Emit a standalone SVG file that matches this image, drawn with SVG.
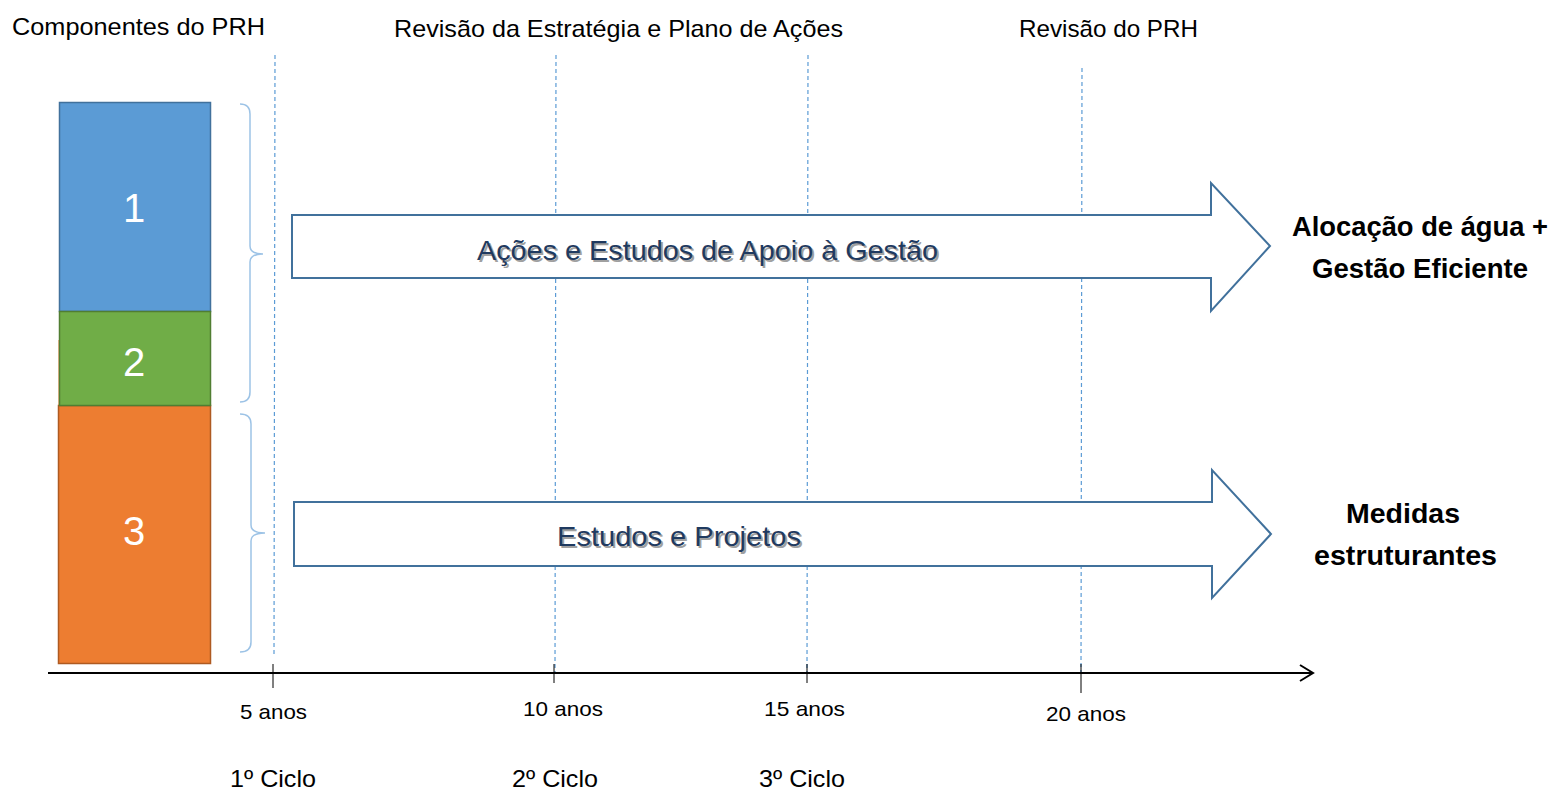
<svg xmlns="http://www.w3.org/2000/svg" width="1551" height="791" viewBox="0 0 1551 791">
<style>
.t{font-family:"Liberation Sans",Arial,sans-serif;fill:#000}
.h{font-size:24px}
.b{font-size:27px;font-weight:bold}
.num{font-family:"Liberation Sans",Arial,sans-serif;font-size:40px;fill:#fff;text-anchor:middle}
.lbl{font-family:"Liberation Sans",Arial,sans-serif;font-size:28px;fill:#1f3a60}
.sh{font-family:"Liberation Sans",Arial,sans-serif;font-size:28px;fill:#a0a0a0}
.yr{font-size:21px}
.cy{font-size:24px}
.dash{stroke:#5b9bd5;stroke-width:1.2;stroke-dasharray:4 3;fill:none}
.brace{stroke:#9dc3e6;stroke-width:1.5;fill:none}
.big{fill:#fff;stroke:#41719c;stroke-width:2}
.tick{stroke:#000;stroke-width:1}
</style>
<rect width="1551" height="791" fill="#fff"/>
<g id="headings">
<text class="t h" x="12" y="35" textLength="253" lengthAdjust="spacingAndGlyphs">Componentes do PRH</text>
<text class="t h" x="394" y="37" textLength="449" lengthAdjust="spacingAndGlyphs">Revisão da Estratégia e Plano de Ações</text>
<text class="t h" x="1019" y="37" textLength="179" lengthAdjust="spacingAndGlyphs">Revisão do PRH</text>
</g>
<g id="gridlines">
<line class="dash" x1="275" y1="55" x2="274" y2="656"/>
<line class="dash" x1="556" y1="55" x2="555" y2="672"/>
<line class="dash" x1="808" y1="55" x2="807" y2="672"/>
<line class="dash" x1="1082" y1="68" x2="1081" y2="672"/>
</g>
<g id="comp3">
<rect x="58.5" y="340" width="3" height="70" fill="#ed7d31"/>
<rect x="58.5" y="405.5" width="152" height="258" fill="#ed7d31" stroke="#ae5a21" stroke-width="1.5"/>
<text class="num" x="134" y="545">3</text>
</g>
<g id="comp1">
<rect x="59.5" y="102.5" width="151" height="209" fill="#5b9bd5" stroke="#41719c" stroke-width="1.5"/>
<text class="num" x="134" y="222">1</text>
</g>
<g id="comp2">
<rect x="59.5" y="311.5" width="151" height="94" fill="#70ad47" stroke="#507e32" stroke-width="1.5"/>
<text class="num" x="134" y="376">2</text>
</g>
<g id="braces">
<path class="brace" d="M240,104 Q250,104 250,114 L250,246 Q250,254 263,254 Q250,254 250,262 L250,392 Q250,402 240,402"/>
<path class="brace" d="M240,414 Q251,414 251,424 L251,525 Q251,533 265,533 Q251,533 251,541 L251,642 Q251,652 240,652"/>
</g>
<g id="connectors">
<line x1="48" y1="673" x2="1312" y2="673" stroke="#000" stroke-width="2"/>
<path d="M1300,665 L1313,673 L1300,681" fill="none" stroke="#000" stroke-width="2"/>
<line class="tick" x1="273" y1="664" x2="273" y2="688"/>
<line class="tick" x1="554" y1="664" x2="554" y2="683"/>
<line class="tick" x1="807" y1="664" x2="807" y2="683"/>
<line class="tick" x1="1081" y1="664" x2="1081" y2="693"/>
</g>
<g id="arrow1">
<path class="big" d="M292,215 L1211,215 L1211,183 L1270,246 L1211,311 L1211,278 L292,278 Z"/>
<text class="sh" x="479" y="262" textLength="461" lengthAdjust="spacingAndGlyphs">Ações e Estudos de Apoio à Gestão</text>
<text class="lbl" x="477" y="260" textLength="461" lengthAdjust="spacingAndGlyphs">Ações e Estudos de Apoio à Gestão</text>
</g>
<g id="arrow2">
<path class="big" d="M294,502 L1212,502 L1212,470 L1271,534 L1212,598 L1212,566 L294,566 Z"/>
<text class="sh" x="559" y="548" textLength="244" lengthAdjust="spacingAndGlyphs">Estudos e Projetos</text>
<text class="lbl" x="557" y="546" textLength="244" lengthAdjust="spacingAndGlyphs">Estudos e Projetos</text>
</g>
<g id="outcome1">
<text class="t b" x="1292" y="236" textLength="256" lengthAdjust="spacingAndGlyphs">Alocação de água +</text>
<text class="t b" x="1312" y="278" textLength="216" lengthAdjust="spacingAndGlyphs">Gestão Eficiente</text>
</g>
<g id="outcome2">
<text class="t b" x="1346" y="523" textLength="114" lengthAdjust="spacingAndGlyphs">Medidas</text>
<text class="t b" x="1314" y="565" textLength="183" lengthAdjust="spacingAndGlyphs">estruturantes</text>
</g>
<g id="years">
<text class="t yr" x="240" y="719" textLength="67" lengthAdjust="spacingAndGlyphs">5 anos</text>
<text class="t yr" x="523" y="716" textLength="80" lengthAdjust="spacingAndGlyphs">10 anos</text>
<text class="t yr" x="764" y="716" textLength="81" lengthAdjust="spacingAndGlyphs">15 anos</text>
<text class="t yr" x="1046" y="721" textLength="80" lengthAdjust="spacingAndGlyphs">20 anos</text>
</g>
<g id="cycles">
<text class="t cy" x="230" y="787" textLength="86" lengthAdjust="spacingAndGlyphs">1º Ciclo</text>
<text class="t cy" x="512" y="787" textLength="86" lengthAdjust="spacingAndGlyphs">2º Ciclo</text>
<text class="t cy" x="759" y="787" textLength="86" lengthAdjust="spacingAndGlyphs">3º Ciclo</text>
</g>
</svg>
